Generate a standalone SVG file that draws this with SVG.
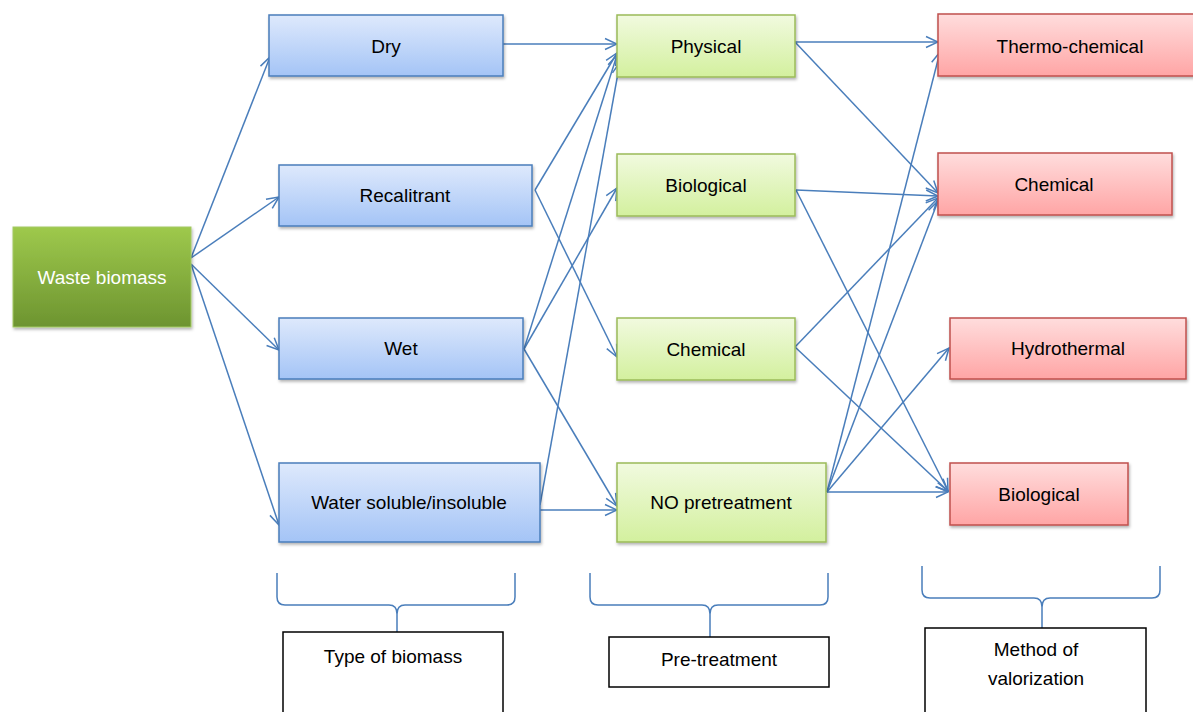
<svg xmlns="http://www.w3.org/2000/svg" width="1193" height="712" viewBox="0 0 1193 712">
<style>
.t{font-family:"Liberation Sans",Arial,sans-serif;font-size:19px;fill:#000;text-anchor:middle}
.tw{fill:#fff}
.blue{fill:url(#gBlue);stroke:#4a7ebb;stroke-width:1.5;filter:url(#sh)}
.green{fill:url(#gGreen);stroke:#9bbb59;stroke-width:1.5;filter:url(#sh)}
.red{fill:url(#gRed);stroke:#c0504d;stroke-width:1.5;filter:url(#sh)}
.src{fill:url(#gSrc);stroke:#a3c964;stroke-width:1;filter:url(#sh)}
.lbl{fill:#fff;stroke:#000;stroke-width:1.5}
.c{fill:none;stroke:#4a7ebb;stroke-width:1.5;marker-end:url(#arr)}
.br{fill:none;stroke:#4a7ebb;stroke-width:1.5}
</style>
<defs>
<linearGradient id="gBlue" x1="0" y1="0" x2="0" y2="1"><stop offset="0" stop-color="#dee9fc"/><stop offset="1" stop-color="#a4c4f6"/></linearGradient>
<linearGradient id="gGreen" x1="0" y1="0" x2="0" y2="1"><stop offset="0" stop-color="#f1fadf"/><stop offset="1" stop-color="#d3f09e"/></linearGradient>
<linearGradient id="gRed" x1="0" y1="0" x2="0" y2="1"><stop offset="0" stop-color="#ffdddd"/><stop offset="1" stop-color="#ffa5a5"/></linearGradient>
<linearGradient id="gSrc" x1="0" y1="0" x2="0" y2="1"><stop offset="0" stop-color="#9ec94c"/><stop offset="1" stop-color="#6d9430"/></linearGradient>
<filter id="sh" x="-10%" y="-10%" width="120%" height="130%"><feDropShadow dx="1" dy="2" stdDeviation="1.5" flood-color="#000" flood-opacity="0.3"/></filter>
<marker id="arr" viewBox="0 0 14 14" refX="13" refY="7" markerWidth="14" markerHeight="14" markerUnits="userSpaceOnUse" orient="auto"><path d="M1,1.5 L13,7 L1,12.5" fill="none" stroke="#4a7ebb" stroke-width="1.5"/></marker>
</defs>

<g id="connectors">
<line class="c" x1="191" y1="258" x2="270" y2="57"/>
<line class="c" x1="191" y1="258" x2="279" y2="197"/>
<line class="c" x1="191" y1="264" x2="279" y2="350"/>
<line class="c" x1="191" y1="264" x2="279" y2="525"/>
<line class="c" x1="503" y1="44" x2="617" y2="44"/>
<line class="c" x1="535" y1="190" x2="617" y2="53"/>
<line class="c" x1="535" y1="190" x2="617" y2="357"/>
<line class="c" x1="524" y1="349" x2="617" y2="55"/>
<line class="c" x1="524" y1="349" x2="617" y2="188"/>
<line class="c" x1="524" y1="349" x2="617" y2="506"/>
<line class="c" x1="540" y1="505" x2="620" y2="62"/>
<line class="c" x1="540" y1="510" x2="617" y2="510"/>
<line class="c" x1="795" y1="42" x2="938" y2="42"/>
<line class="c" x1="795" y1="42" x2="938" y2="193"/>
<line class="c" x1="796" y1="190" x2="938" y2="196"/>
<line class="c" x1="796" y1="190" x2="948" y2="491"/>
<line class="c" x1="795" y1="347" x2="938" y2="198"/>
<line class="c" x1="795" y1="347" x2="948" y2="491"/>
<line class="c" x1="827" y1="492" x2="940" y2="52"/>
<line class="c" x1="827" y1="492" x2="938" y2="201"/>
<line class="c" x1="827" y1="492" x2="949" y2="348"/>
<line class="c" x1="827" y1="492" x2="948" y2="492"/>
</g>

<g id="waste-biomass"><rect class="src" x="13" y="227" width="178" height="100"/><text class="t tw" x="102" y="284">Waste biomass</text></g>

<g id="dry"><rect class="blue" x="269" y="15" width="234" height="61"/><text class="t" x="386" y="53">Dry</text></g>
<g id="recalitrant"><rect class="blue" x="279" y="165" width="253" height="61"/><text class="t" x="405" y="202">Recalitrant</text></g>
<g id="wet"><rect class="blue" x="279" y="318" width="244" height="61"/><text class="t" x="401" y="355">Wet</text></g>
<g id="water"><rect class="blue" x="279" y="463" width="261" height="79"/><text class="t" x="409" y="509">Water soluble/insoluble</text></g>

<g id="physical"><rect class="green" x="617" y="15" width="178" height="62"/><text class="t" x="706" y="53">Physical</text></g>
<g id="biological-pre"><rect class="green" x="617" y="154" width="178" height="62"/><text class="t" x="706" y="192">Biological</text></g>
<g id="chemical-pre"><rect class="green" x="617" y="318" width="178" height="62"/><text class="t" x="706" y="356">Chemical</text></g>
<g id="no-pretreatment"><rect class="green" x="617" y="463" width="209" height="79"/><text class="t" x="721" y="509">NO pretreatment</text></g>

<g id="thermo-chemical"><rect class="red" x="938" y="14" width="262" height="62"/><text class="t" x="1070" y="53">Thermo-chemical</text></g>
<g id="chemical-val"><rect class="red" x="938" y="153" width="234" height="62"/><text class="t" x="1054" y="191">Chemical</text></g>
<g id="hydrothermal"><rect class="red" x="950" y="318" width="236" height="61"/><text class="t" x="1068" y="355">Hydrothermal</text></g>
<g id="biological-val"><rect class="red" x="950" y="463" width="178" height="62"/><text class="t" x="1039" y="501">Biological</text></g>

<g id="brace-type">
<path class="br" d="M277,573 V597 Q277,605 285,605 H389 Q397,605 397,614 V632 M397,614 Q397,605 405,605 H507 Q515,605 515,597 V573"/>
<rect class="lbl" x="283" y="632" width="220" height="90"/>
<text class="t" x="393" y="663">Type of biomass</text>
</g>
<g id="brace-pre">
<path class="br" d="M590,573 V597 Q590,605 598,605 H702 Q710,605 710,614 V637 M710,614 Q710,605 718,605 H820 Q828,605 828,597 V573"/>
<rect class="lbl" x="609" y="637" width="220" height="50"/>
<text class="t" x="719" y="666">Pre-treatment</text>
</g>
<g id="brace-method">
<path class="br" d="M922,566 V590 Q922,598 930,598 H1034 Q1042,598 1042,607 V628 M1042,607 Q1042,598 1050,598 H1152 Q1160,598 1160,590 V566"/>
<rect class="lbl" x="925" y="628" width="221" height="90"/>
<text class="t" x="1036" y="656">Method of</text>
<text class="t" x="1036" y="685">valorization</text>
</g>
</svg>
